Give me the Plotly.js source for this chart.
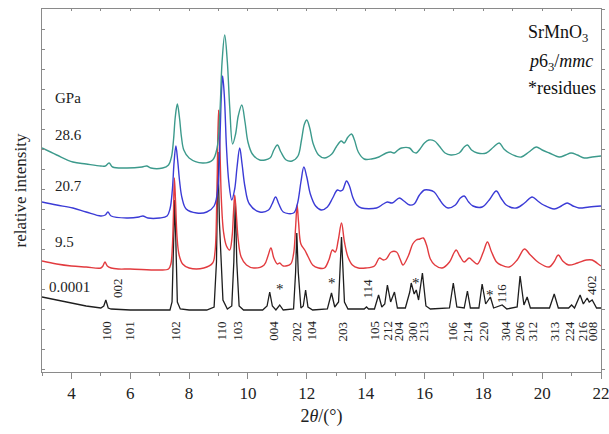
<!DOCTYPE html>
<html>
<head>
<meta charset="utf-8">
<script src="https://cdn.plot.ly/plotly-3.0.1.min.js"></script>
<style>html,body{margin:0;padding:0;background:#fff;}#chart{width:609px;height:434px;}</style>
</head>
<body>
<div id="chart"></div>
<script>
// 0.0001 GPa (black)
const x_p0 = [3,3.5,4,4.5,5,5.1,5.17,5.25,5.35,6,6.5,7,7.35,7.42,7.47,7.51,7.55,7.6,7.7,8,8.6,8.85,8.93,8.98,9.03,9.07,9.15,9.3,9.45,9.52,9.57,9.62,9.7,9.85,10.5,10.65,10.74,10.83,10.95,11.08,11.2,11.55,11.62,11.66,11.71,11.8,11.88,11.96,12.04,12.2,12.7,12.84,12.95,13.08,13.18,13.28,13.4,13.95,14.03,14.1,14.3,14.44,14.55,14.65,14.74,14.85,14.98,15.08,15.35,15.5,15.55,15.65,15.72,15.8,15.93,16.05,16.2,16.85,16.98,17.1,17.35,17.46,17.56,17.85,17.96,18.08,18.24,18.35,18.64,18.8,19.15,19.25,19.38,19.49,19.6,20.25,20.41,20.55,20.9,21.0,21.1,21.29,21.4,21.53,21.6,21.7,21.85,22];
const i_p0 = [75,72,69,66,64,66,72,64,63,62,62,62,62,70,130,172,130,70,63,62,62,65,110,220,150,117,72,63,66,110,172,110,66,62,62,66,80,66,62,67,62,63,100,139,100,64,66,82,65,62,63,79,65,70,135,70,63,63,65,63,63,77,65,68,87,70,80,64,64,80,89,78,82,72,99,66,63,64,89,65,64,81,64,64,88,68,75,64,67,63,65,96,67,75,64,64,78,64,64,67,64,77,68,74,70,72,64,64];

// 9.5 GPa (red)
const x_p1 = [3,3.5,4,4.5,5,5.07,5.14,5.22,5.35,5.6,6,7,7.3,7.38,7.43,7.47,7.5,7.54,7.59,7.66,7.78,8,8.5,8.8,8.88,8.94,9.0,9.05,9.1,9.17,9.27,9.38,9.46,9.51,9.55,9.6,9.67,9.77,9.95,10.2,10.55,10.68,10.78,10.88,11.0,11.08,11.2,11.45,11.55,11.62,11.67,11.72,11.8,11.93,12.05,12.2,12.4,12.6,12.75,12.87,12.97,13.07,13.18,13.28,13.4,13.55,13.75,14.0,14.3,14.47,14.6,14.7,14.87,15.05,15.17,15.27,15.45,15.6,15.72,15.85,15.96,16.07,16.2,16.35,16.6,16.85,17.0,17.08,17.2,17.35,17.52,17.65,17.8,18.0,18.14,18.28,18.45,18.6,18.88,19.15,19.4,19.6,19.9,20.24,20.4,20.55,20.7,20.9,21.2,21.5,21.7,21.95,22];
const i_p1 = [111,108,106,105,104,106,110,106,104,103,103,102,103,108,125,160,194,170,135,117,108,104,104,109,120,170,262,220,170,140,126,122,135,160,177,160,132,115,107,104,107,116,124,114,108,109,106,108,118,145,167,150,128,122,115,107,104,104,112,122,120,132,149,130,115,107,104,104,106,114,112,113,120,120,113,107,116,128,132,133,134,127,113,107,104,110,119,122,116,110,114,111,108,120,130,120,110,107,105,112,123,117,109,105,110,117,111,107,109,112,112,107,106];

// 20.7 GPa (blue)
const x_p2 = [3,3.5,4.05,4.5,5,5.15,5.24,5.35,5.88,6.3,6.43,6.6,7,7.25,7.35,7.43,7.49,7.55,7.61,7.68,7.76,7.9,8.26,8.6,8.85,8.98,9.05,9.1,9.14,9.2,9.27,9.35,9.45,9.55,9.63,9.72,9.8,9.9,10.05,10.4,10.7,10.82,10.94,11.05,11.2,11.55,11.68,11.8,11.9,12.0,12.12,12.3,12.5,12.7,12.88,13.04,13.14,13.22,13.35,13.45,13.56,13.7,13.86,14.37,14.6,14.74,14.9,15.15,15.3,15.5,15.65,15.83,16.0,16.15,16.33,16.5,16.65,16.8,17.05,17.22,17.35,17.5,17.65,17.96,18.2,18.44,18.6,18.78,19.12,19.4,19.66,19.85,20.05,20.41,20.65,20.85,21.05,21.25,21.6,22];
const i_p2 = [170,167,164,160,156,157,160,156,154,155,156,154,154,156,163,182,210,226,212,190,174,163,159,160,166,185,235,280,296,275,225,190,172,183,205,224,208,185,168,160,162,168,175,168,160,159,168,190,205,195,178,166,162,165,174,182,181,182,191,186,175,167,164,164,168,170,169,174,171,167,168,177,182,182,180,173,167,164,167,174,176,170,166,165,172,181,174,167,164,169,175,171,167,163,166,169,166,164,165,166];

// 28.6 GPa (teal)
const x_p3 = [3,3.5,4.05,4.5,5,5.15,5.28,5.4,5.88,6.4,6.56,6.7,7.1,7.3,7.4,7.47,7.53,7.6,7.67,7.74,7.82,8,8.46,8.8,8.95,9.05,9.12,9.21,9.3,9.38,9.48,9.58,9.67,9.79,9.9,10.0,10.15,10.4,10.75,10.88,11.0,11.12,11.3,11.5,11.7,11.82,11.92,12.0,12.1,12.22,12.4,12.6,12.85,13.0,13.17,13.27,13.4,13.52,13.62,13.75,13.95,14.2,14.45,14.7,14.85,14.98,15.1,15.22,15.49,15.62,15.72,15.85,16.0,16.15,16.34,16.5,16.7,16.9,17.18,17.35,17.46,17.6,17.8,18.1,18.35,18.54,18.7,18.88,19.1,19.29,19.55,19.8,20.0,20.24,20.58,20.8,20.98,21.2,21.43,21.7,22];
const i_p3 = [224,217,210,208,206,206,209,205,204,205,206,204,204,207,215,232,255,268,255,235,222,214,209,212,224,262,310,337,310,265,228,238,256,267,250,230,218,212,214,222,227,220,212,211,216,232,248,252,244,228,217,214,218,225,231,229,235,238,232,220,213,213,215,219,220,219,222,224,224,220,219,223,229,232,231,226,219,217,219,225,227,222,219,219,225,229,223,219,216,215,220,225,222,219,215,217,219,217,214,215,216];

const seriesColors = ["#1e1e1e", "#e23b3f", "#3b3bd6", "#3c9a8c"];
const seriesSmooth = [0, 1, 1, 1];

// reflection labels (below curves)
const hkl = ["100","101","102","110","103","004","202","104","203","105","212","204","300","213","106","214","220","304","206","312","313","224","216","008"];
const hklPos = [5.17,5.95,7.51,9.07,9.62,10.84,11.65,12.13,13.21,14.27,14.71,15.11,15.59,15.96,16.95,17.46,18.0,18.74,19.22,19.66,20.41,20.92,21.36,21.70];
// reflection labels above the black curve
const hklTop = ["002","114","116","402"];
const hklTopPos = [5.55,14.06,18.61,21.66];
const hklTopI = [84,84,79,87];
// residue markers
const starPos = [11.08,12.84,15.72,18.24];
const starI = [83,89,89,77];
// pressure labels
const pLabels = ["GPa","28.6","20.7","9.5","0.0001"];
const pLabelI = [274,237,186,130,85];
const pLabelX = [3.36,3.36,3.36,3.36,3.17];

const serif = "'Liberation Serif', 'Times New Roman', 'DejaVu Serif', serif";
const axisCol = "#8a8a8a";
const xs = [x_p0, x_p1, x_p2, x_p3];
const is = [i_p0, i_p1, i_p2, i_p3];
const traces = xs.map((x, k) => ({
  x: x, y: is[k], type: "scatter", mode: "lines",
  line: seriesSmooth[k] > 0 ? {color: seriesColors[k], width: 1.4, shape: "spline", smoothing: seriesSmooth[k]}
                            : {color: seriesColors[k], width: 1.3, shape: "linear"},
  hoverinfo: "skip", showlegend: false
}));
// empty trace to activate the top/right tick axes
traces.push({x: [], y: [], xaxis: "x2", yaxis: "y2", type: "scatter", mode: "lines", showlegend: false, hoverinfo: "skip"});

const ann = [];
hkl.forEach((t, k) => ann.push({x: hklPos[k], y: 41, xref: "x", yref: "y", text: t, showarrow: false,
  textangle: -90, font: {family: serif, size: 13, color: "#222"}}));
hklTop.forEach((t, k) => ann.push({x: hklTopPos[k], y: hklTopI[k], xref: "x", yref: "y", text: t, showarrow: false,
  textangle: -90, font: {family: serif, size: 13, color: "#222"}}));
starPos.forEach((p, k) => ann.push({x: p, y: starI[k], xref: "x", yref: "y", text: "*", showarrow: false,
  font: {family: serif, size: 15, color: "#222"}}));
pLabels.forEach((t, k) => ann.push({x: pLabelX[k], y: pLabelI[k], xref: "x", yref: "y", text: t, showarrow: false,
  xanchor: "left", font: {family: serif, size: 15, color: "#222"}}));
ann.push({x: 19.45, y: 339, xref: "x", yref: "y", text: "SrMnO<sub>3</sub>", showarrow: false, xanchor: "left", font: {family: serif, size: 18, color: "#111"}});
ann.push({x: 19.45, y: 310, xref: "x", yref: "y", text: "<i>p</i>6<sub>3</sub>/<i>mmc</i>", showarrow: false, xanchor: "left", font: {family: serif, size: 18, color: "#111"}});
ann.push({x: 19.45, y: 284, xref: "x", yref: "y", text: "*residues", showarrow: false, xanchor: "left", font: {family: serif, size: 18, color: "#111"}});

const layout = {
  width: 609, height: 434,
  margin: {l: 42, r: 8, t: 9, b: 62},
  paper_bgcolor: "#fff", plot_bgcolor: "#fff",
  font: {family: serif},
  xaxis: {
    range: [3, 22], tickvals: [4,6,8,10,12,14,16,18,20,22],
    ticks: "outside", ticklen: 6, tickcolor: axisCol, showline: true, linecolor: axisCol, linewidth: 1,
    mirror: true, showgrid: false, zeroline: false, ticklabeloverflow: "allow",
    minor: {tickvals: [3,5,7,9,11,13,15,17,19,21], ticks: "outside", ticklen: 3, tickcolor: axisCol},
    tickfont: {family: serif, size: 17, color: "#222"},
    title: {text: "2<i>θ</i>/(°)", font: {family: serif, size: 18, color: "#222"}, standoff: 6}
  },
  xaxis2: {
    overlaying: "x", side: "top", matches: "x", range: [3, 22],
    tickvals: [3,4,5,6,7,8,9,10,11,12,13,14,15,16,17,18,19,20,21,22],
    ticks: "inside", ticklen: 2, tickcolor: axisCol, showticklabels: false, showline: false,
    showgrid: false, zeroline: false
  },
  yaxis: {
    range: [0, 363], tick0: 3, dtick: 20, showticklabels: false,
    ticks: "inside", ticklen: 3, tickcolor: axisCol, showline: true, linecolor: axisCol, linewidth: 1,
    mirror: true, showgrid: false, zeroline: false,
    title: {text: "relative intensity", font: {family: serif, size: 17, color: "#222"}, standoff: 10}
  },
  yaxis2: {
    overlaying: "y", side: "right", matches: "y", range: [0, 363], tick0: 3, dtick: 20,
    ticks: "outside", ticklen: 3, tickcolor: axisCol, showticklabels: false, showline: false,
    showgrid: false, zeroline: false
  },
  annotations: ann
};
Plotly.newPlot("chart", traces, layout, {staticPlot: true, displayModeBar: false});
</script>
</body>
</html>
